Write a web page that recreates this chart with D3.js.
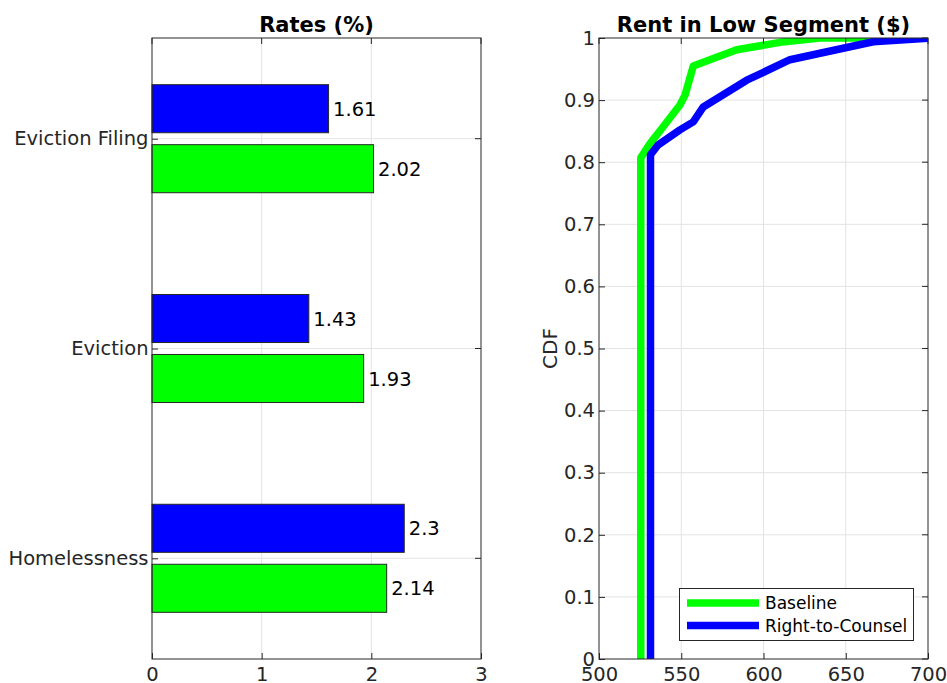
<!DOCTYPE html>
<html>
<head>
<meta charset="utf-8">
<script src="https://cdn.jsdelivr.net/npm/d3@7"></script>
<style>
  body { margin: 0; background: #fff; }
  svg { display: block; font-family: "DejaVu Sans", sans-serif; }
</style>
</head>
<body>
<svg id="chart" width="947" height="683"></svg>
<script>
// Outcome rates by policy scenario
const categories = ["Eviction Filing", "Eviction", "Homelessness"];
const baselineRates = [2.02, 1.93, 2.14];
const counselRates = [1.61, 1.43, 2.3];
const rateTicks = [0, 1, 2, 3];

// Empirical CDF of rents in the low segment
const baselineRent = [525.4, 525.4, 531, 539, 549.2, 552.3, 557.3, 583.7, 610, 634.3, 700];
const baselineCdf  = [0, 0.807, 0.830, 0.857, 0.892, 0.908, 0.955, 0.981, 0.993, 1.0, 1.0];
const counselRent  = [531.3, 531.3, 536, 549.2, 557.3, 563.4, 589.8, 616.1, 666.7, 700];
const counselCdf   = [0, 0.812, 0.828, 0.852, 0.865, 0.889, 0.932, 0.965, 0.994, 0.9995];
const rentTicks = [500, 550, 600, 650, 700];
const cdfTicks = [0, 0.1, 0.2, 0.3, 0.4, 0.5, 0.6, 0.7, 0.8, 0.9, 1];

const GREEN = "#00ff00", BLUE = "#0000ff", AXIS = "#262626", GRID = "#e3e3e3";
const TICK_FONT = 19.5, VALUE_FONT = 19.5, TITLE_FONT = 21, LEGEND_FONT = 17;
const svg = d3.select("#chart");
const plotTop = 38, plotBottom = 659;
const tickLen = 6;

function frame(g, x0, x1) {
  g.append("rect").attr("x", x0).attr("y", plotTop).attr("width", x1 - x0).attr("height", plotBottom - plotTop)
    .attr("fill", "none").attr("stroke", AXIS).attr("stroke-width", 1);
}

function styleAxis(g) {
  g.select(".domain").remove();
  g.selectAll("line").attr("stroke", AXIS);
  g.selectAll("text").attr("font-size", TICK_FONT).attr("fill", AXIS)
    .attr("font-family", "DejaVu Sans, sans-serif");
}

// ---------- Left panel: horizontal grouped bars ----------
const L = svg.append("g");
const xL = d3.scaleLinear().domain([0, 3]).range([152, 481]);
const yL = d3.scaleLinear().domain([0.52, 3.48]).range([plotTop, plotBottom]);
const barOffset = 0.143, barH = 0.229;

// grid
L.append("g").selectAll("line").data(rateTicks.slice(1, -1)).join("line")
  .attr("x1", d => xL(d)).attr("x2", d => xL(d)).attr("y1", plotTop).attr("y2", plotBottom)
  .attr("stroke", GRID);
L.append("g").selectAll("line").data(categories).join("line")
  .attr("x1", xL(0)).attr("x2", xL(3)).attr("y1", (d, i) => yL(i + 1)).attr("y2", (d, i) => yL(i + 1))
  .attr("stroke", GRID);

const groups = [
  { vals: counselRates, color: BLUE, off: -barOffset },
  { vals: baselineRates, color: GREEN, off: barOffset }
];
groups.forEach(s => {
  L.append("g").selectAll("rect").data(s.vals).join("rect")
    .attr("x", xL(0))
    .attr("y", (d, i) => yL(i + 1 + s.off - barH / 2))
    .attr("width", d => xL(d) - xL(0))
    .attr("height", yL(barH) - yL(0))
    .attr("fill", s.color).attr("stroke", AXIS).attr("stroke-width", 1);
  L.append("g").selectAll("text").data(s.vals).join("text")
    .attr("x", d => xL(d) + 4.5)
    .attr("y", (d, i) => yL(i + 1 + s.off))
    .attr("dy", "0.36em")
    .attr("font-size", VALUE_FONT).attr("fill", "#000")
    .text(d => String(d));
});

// x axis (bottom) with inward ticks, plus mirrored ticks on top
const axL = d3.axisBottom(xL).tickValues(rateTicks).tickSize(-tickLen).tickPadding(8).tickFormat(d3.format("d"));
const gxL = L.append("g").attr("transform", `translate(0,${plotBottom})`).call(axL);
L.append("g").selectAll("line").data(rateTicks).join("line")
  .attr("x1", d => xL(d)).attr("x2", d => xL(d)).attr("y1", plotTop).attr("y2", plotTop + tickLen).attr("stroke", AXIS);
// y axis with category labels
const ayL = d3.axisLeft(yL).tickValues([1, 2, 3]).tickSize(-tickLen).tickPadding(3.5)
  .tickFormat((d) => categories[d - 1]);
const gyL = L.append("g").attr("transform", `translate(${xL(0)},0)`).call(ayL);
L.append("g").selectAll("line").data([1, 2, 3]).join("line")
  .attr("x1", xL(3)).attr("x2", xL(3) - tickLen).attr("y1", d => yL(d)).attr("y2", d => yL(d)).attr("stroke", AXIS);
[gxL, gyL].forEach(styleAxis);
frame(L, xL(0), xL(3));
L.append("text").attr("x", (xL(0) + xL(3)) / 2).attr("y", 31.5).attr("text-anchor", "middle")
  .attr("font-size", TITLE_FONT).attr("font-weight", "bold").text("Rates (%)");

// ---------- Right panel: CDF lines ----------
const R = svg.append("g");
const xR = d3.scaleLinear().domain([500, 700]).range([599, 928]);
const yR = d3.scaleLinear().domain([0, 1]).range([plotBottom, plotTop]);

R.append("g").selectAll("line").data(rentTicks.slice(1, -1)).join("line")
  .attr("x1", d => xR(d)).attr("x2", d => xR(d)).attr("y1", plotTop).attr("y2", plotBottom).attr("stroke", GRID);
R.append("g").selectAll("line").data(cdfTicks.slice(1, -1)).join("line")
  .attr("x1", xR(500)).attr("x2", xR(700)).attr("y1", d => yR(d)).attr("y2", d => yR(d)).attr("stroke", GRID);

R.append("clipPath").attr("id", "clipR").append("rect")
  .attr("x", xR(500)).attr("y", plotTop).attr("width", xR(700) - xR(500)).attr("height", plotBottom - plotTop);

const line = d3.line().x(d => xR(d[0])).y(d => yR(d[1]));
const series = [
  { name: "Baseline", x: baselineRent, y: baselineCdf, color: GREEN },
  { name: "Right-to-Counsel", x: counselRent, y: counselCdf, color: BLUE }
];
series.forEach(s => {
  R.append("path").attr("clip-path", "url(#clipR)")
    .datum(s.x.map((v, i) => [v, s.y[i]]))
    .attr("d", line).attr("fill", "none").attr("stroke", s.color)
    .attr("stroke-width", 7.5).attr("stroke-linejoin", "round");
});

const axR = d3.axisBottom(xR).tickValues(rentTicks).tickSize(-tickLen).tickPadding(8).tickFormat(d3.format("d"));
const gxR = R.append("g").attr("transform", `translate(0,${plotBottom})`).call(axR);
R.append("g").selectAll("line").data(rentTicks).join("line")
  .attr("x1", d => xR(d)).attr("x2", d => xR(d)).attr("y1", plotTop).attr("y2", plotTop + tickLen).attr("stroke", AXIS);
const ayR = d3.axisLeft(yR).tickValues(cdfTicks).tickSize(-tickLen).tickPadding(4).tickFormat(d => String(+d.toFixed(1)));
const gyR = R.append("g").attr("transform", `translate(${xR(500)},0)`).call(ayR);
R.append("g").selectAll("line").data(cdfTicks).join("line")
  .attr("x1", xR(700)).attr("x2", xR(700) - tickLen).attr("y1", d => yR(d)).attr("y2", d => yR(d)).attr("stroke", AXIS);
[gxR, gyR].forEach(styleAxis);
frame(R, xR(500), xR(700));
R.append("text").attr("x", (xR(500) + xR(700)) / 2).attr("y", 31.5).attr("text-anchor", "middle")
  .attr("font-size", TITLE_FONT).attr("font-weight", "bold").text("Rent in Low Segment ($)");
R.append("text").attr("transform", `translate(557,${(plotTop + plotBottom) / 2}) rotate(-90)`)
  .attr("text-anchor", "middle").attr("font-size", 20).attr("fill", AXIS).text("CDF");

// legend
const lg = R.append("g");
lg.append("rect").attr("x", 679.5).attr("y", 588.5).attr("width", 234).attr("height", 52)
  .attr("fill", "#fff").attr("stroke", AXIS).attr("stroke-width", 1);
series.forEach((s, i) => {
  const yy = 603 + i * 22.5;
  lg.append("line").attr("x1", 687).attr("x2", 759).attr("y1", yy).attr("y2", yy)
    .attr("stroke", s.color).attr("stroke-width", 7.5);
  lg.append("text").attr("x", 765).attr("y", yy).attr("dy", "0.36em")
    .attr("font-size", LEGEND_FONT).attr("fill", "#000").text(s.name);
});
</script>
</body>
</html>
